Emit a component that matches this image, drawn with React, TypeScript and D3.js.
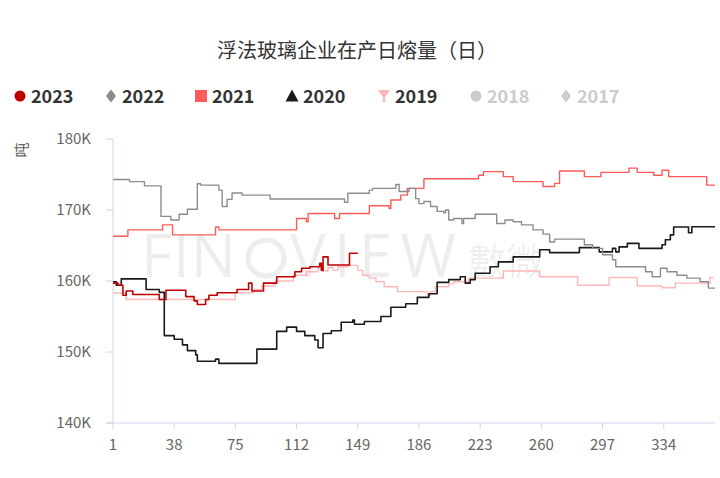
import React from "react";
import * as d3 from "d3";

// ---- data (day-of-year, value in thousand tonnes), step change points ----
const years = ["2023", "2022", "2021", "2020", "2019", "2018", "2017"];
const xTicks = [1, 38, 75, 112, 149, 186, 223, 260, 297, 334];
const yTicks = [140, 150, 160, 170, 180];

const s2023: [number, number][] = [
  [1, 159.7], [4, 159.4], [7, 158.0], [9, 158.6], [13, 158.1], [29, 157.4], [33, 158.7],
  [45, 157.8], [50, 157.2], [52, 156.7], [57, 157.4], [59, 158.0], [64, 158.35], [76, 158.8],
  [83, 159.7], [85, 158.6], [92, 159.7], [100, 160.6], [111, 161.3], [115, 161.8], [120, 162.0],
  [126, 162.5], [127, 161.5], [128, 163.4], [131, 162.25], [144, 163.9], [149, 163.9],
];
const s2022: [number, number][] = [
  [1, 174.3], [11, 174.0], [20, 173.4], [30, 169.1], [36, 168.6], [41, 169.4], [46, 170.1],
  [52, 173.7], [54, 173.5], [65, 172.8], [67, 170.5], [70, 171.5], [73, 172.4], [79, 172.1],
  [96, 171.55], [141, 171.1], [143, 172.35], [156, 172.8], [158, 173.05], [172, 173.6],
  [174, 172.6], [180, 173.05], [184, 171.6], [186, 170.9], [189, 171.2], [193, 170.5],
  [197, 169.8], [201, 169.6], [202, 170.0], [204, 168.6], [207, 168.8], [212, 168.1],
  [213, 168.8], [220, 169.4], [233, 168.1], [238, 168.6], [243, 168.35], [248, 167.9],
  [255, 167.2], [261, 166.6], [265, 165.5], [268, 165.9], [286, 165.1], [291, 164.6],
  [297, 163.7], [303, 163.0], [305, 162.0], [323, 161.3], [327, 160.6], [332, 161.8],
  [336, 161.3], [342, 160.8], [348, 160.4], [356, 159.9], [361, 159.0], [365, 159.0],
];
const s2021: [number, number][] = [
  [1, 166.3], [10, 167.2], [31, 167.9], [37, 166.5], [63, 167.6], [65, 167.2], [112, 168.8],
  [118, 168.35], [119, 169.5], [135, 168.8], [138, 169.5], [156, 170.6], [168, 170.2],
  [169, 171.4], [175, 172.1], [179, 173.05], [189, 174.4], [222, 174.9], [225, 175.4],
  [237, 174.7], [243, 174.0], [261, 173.3], [268, 173.75], [271, 175.5], [286, 174.7],
  [296, 175.3], [313, 175.9], [318, 175.3], [328, 174.9], [333, 175.6], [337, 174.7],
  [360, 173.5], [365, 173.5],
];
const s2020: [number, number][] = [
  [1, 159.9], [3, 159.4], [6, 160.3], [21, 158.8], [29, 158.4], [32, 152.3], [38, 151.8],
  [43, 151.0], [46, 150.2], [51, 149.6], [52, 148.7], [63, 149.0], [65, 148.4], [88, 150.4],
  [100, 152.9], [106, 153.5], [112, 152.9], [117, 152.3], [123, 151.7], [125, 150.6],
  [128, 152.6], [133, 153.0], [139, 154.2], [146, 154.5], [147, 153.9], [153, 154.3],
  [163, 155.0], [169, 156.3], [178, 156.8], [185, 157.7], [192, 158.2], [197, 159.8],
  [204, 160.2], [211, 160.6], [214, 159.7], [217, 160.2], [220, 161.1], [229, 162.0],
  [234, 162.7], [243, 163.4], [259, 164.4], [265, 164.0], [283, 164.7], [295, 164.1],
  [303, 164.6], [305, 164.1], [307, 164.8], [312, 165.3], [319, 164.6], [333, 165.1],
  [335, 165.8], [338, 166.5], [340, 167.6], [349, 166.8], [351, 167.65], [365, 167.65],
];
const s2019: [number, number][] = [
  [1, 158.3], [9, 157.4], [75, 158.35], [86, 158.8], [91, 159.3], [99, 160.0], [110, 160.8],
  [118, 161.3], [125, 161.8], [128, 161.4], [131, 161.9], [134, 161.5], [137, 162.0],
  [143, 162.2], [149, 161.5], [152, 160.8], [156, 160.4], [160, 159.9], [165, 159.2],
  [173, 158.5], [191, 158.0], [193, 158.5], [196, 159.2], [204, 159.6], [207, 159.9],
  [216, 160.4], [237, 161.4], [259, 160.6], [282, 159.4], [301, 160.5], [318, 159.3],
  [333, 159.05], [341, 159.7], [362, 160.5], [364, 160.5],
];

const colors: Record<string, string> = {
  "2023": "#c00000",
  "2022": "#8c8c8c",
  "2021": "#ff5b5b",
  "2020": "#1a1a1a",
  "2019": "#ffb8b8",
  "2018": "#cccccc",
  "2017": "#cccccc",
};
const seriesData: Record<string, [number, number][]> = {
  "2023": s2023, "2022": s2022, "2021": s2021, "2020": s2020, "2019": s2019,
};
const drawOrder = ["2019", "2020", "2021", "2022", "2023"];
const legendX = [31, 122, 212, 303, 395, 487, 577];
const inactive = ["2018", "2017"];

const FONT = "'Noto Sans CJK SC', 'Noto Sans', sans-serif";

export default function App() {
  const x = d3.scaleLinear().domain([1, 365]).range([113, 715]);
  const y = d3.scaleLinear().domain([140, 180]).range([423, 139]);
  const line = d3
    .line<[number, number]>()
    .x((d) => x(d[0]))
    .y((d) => y(d[1]))
    .curve(d3.curveStepAfter);

  const icon = (yr: string, cx: number, cy: number) => {
    const c = colors[yr];
    switch (yr) {
      case "2023":
      case "2018":
        return <circle cx={cx} cy={cy} r={5.5} fill={c} />;
      case "2022":
      case "2017":
        return <path d={`M${cx},${cy - 6.5}L${cx + 5},${cy}L${cx},${cy + 6.5}L${cx - 5},${cy}Z`} fill={c} />;
      case "2021":
        return <rect x={cx - 6} y={cy - 6} width={12} height={12} fill={c} />;
      case "2020":
        return <path d={`M${cx},${cy - 6.5}L${cx + 6.5},${cy + 5.5}L${cx - 6.5},${cy + 5.5}Z`} fill={c} />;
      default:
        return (
          <path
            d={`M${cx - 6},${cy - 6}L${cx + 6},${cy - 6}L${cx + 1.2},${cy + 1}L${cx + 1.2},${cy + 6}L${cx - 1.2},${cy + 6}L${cx - 1.2},${cy + 1}Z`}
            fill={c}
          />
        );
    }
  };

  return (
    <svg
      width={720}
      height={478}
      style={{ position: "absolute", left: 0, top: 0, background: "#fff" }}
      fontFamily={FONT}
    >
      {/* title */}
      <text x={357} y={58} textAnchor="middle" fontSize={20} fill="#333">
        浮法玻璃企业在产日熔量（日）
      </text>

      {/* legend */}
      {years.map((yr, i) => (
        <g key={yr}>
          {icon(yr, legendX[i] - 11, 96)}
          <text
            x={legendX[i]}
            y={102.5}
            fontSize={18}
            fontWeight="bold"
            fill={inactive.includes(yr) ? "#cccccc" : "#333"}
          >
            {yr}
          </text>
        </g>
      ))}

      {/* watermark */}
      <g fill="#000" fillOpacity={0.07}>
        <text
          x={141}
          y={277}
          fontSize={60}
          fontFamily="'Open Sans', sans-serif"
          textLength={95}
          lengthAdjust="spacing"
        >
          FIN
        </text>
        <circle cx={266} cy={258} r={18} fill="none" stroke="#000" strokeOpacity={0.07} strokeWidth={5} />
        <text
          x={290}
          y={277}
          fontSize={60}
          fontFamily="'Open Sans', sans-serif"
          textLength={166}
          lengthAdjust="spacing"
        >
          VIEW
        </text>
        <text x={468} y={275} fontSize={38}>
          數微
        </text>
      </g>

      {/* axes */}
      <line x1={113} x2={113} y1={139} y2={423} stroke="#ccd6eb" />
      <line x1={106} x2={x(365)} y1={423} y2={423} stroke="#ccd6eb" />
      {yTicks.map((t) => (
        <g key={t}>
          <line x1={106} x2={113} y1={y(t)} y2={y(t)} stroke="#ccd6eb" />
          <text x={91} y={y(t) + 5} textAnchor="end" fontSize={15} fill="#666">
            {`${t}K`}
          </text>
        </g>
      ))}
      {xTicks.map((t) => (
        <g key={t}>
          <line x1={x(t)} x2={x(t)} y1={423} y2={429} stroke="#ccd6eb" />
          <text x={x(t)} y={450} textAnchor="middle" fontSize={15} fill="#666">
            {t}
          </text>
        </g>
      ))}
      <text
        transform="translate(27,150) rotate(-90)"
        textAnchor="middle"
        fontSize={15}
        fill="#666"
      >
        吨
      </text>

      {/* lines */}
      {drawOrder.map((yr) => (
        <path
          key={yr}
          d={line(seriesData[yr]) || ""}
          fill="none"
          stroke={colors[yr]}
          strokeWidth={yr === "2023" || yr === "2020" ? 1.6 : 1.4}
          strokeLinejoin="round"
        />
      ))}
    </svg>
  );
}
